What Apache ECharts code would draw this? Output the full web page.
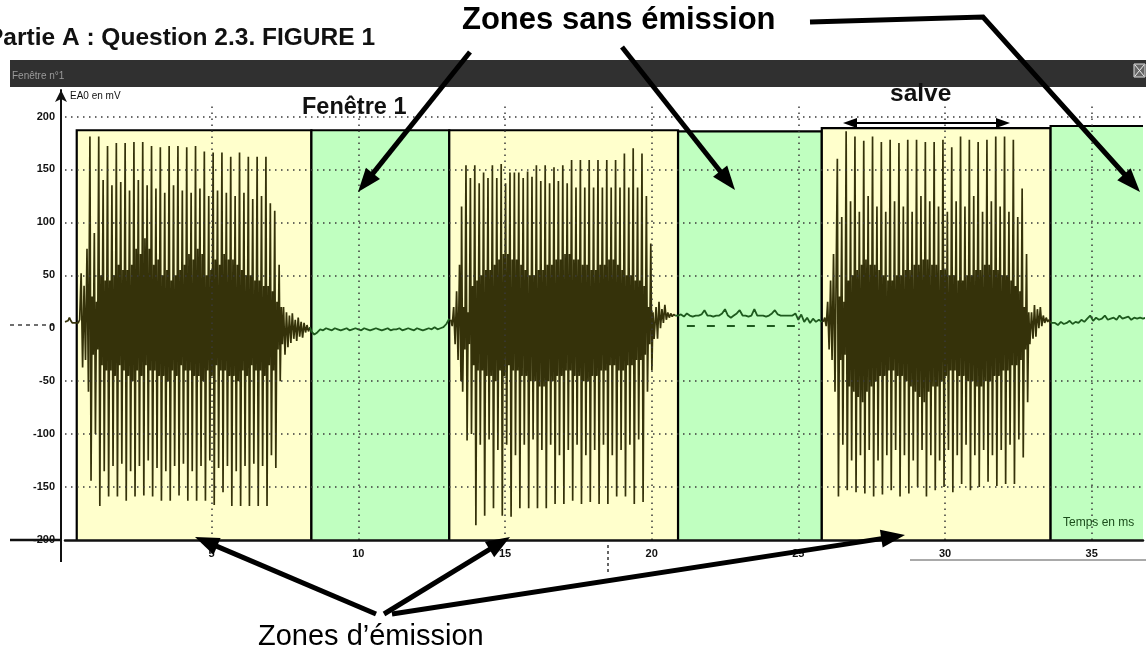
<!DOCTYPE html>
<html><head><meta charset="utf-8">
<script src="https://cdn.jsdelivr.net/npm/echarts/dist/echarts.min.js"></script>
<style>html,body{margin:0;padding:0;background:#fff;overflow:hidden}#c{width:1146px;height:666px}</style>
</head><body><div id="c"></div>
<script>
// ---- zones (ms) ----
const zoneStart = [0.4, 8.4, 13.1, 20.9, 25.8, 33.6];
const zoneEnd   = [8.4, 13.1, 20.9, 25.8, 33.6, 38.0];
const zoneTop   = [187, 187, 187, 186, 189, 191];
const zoneKind  = ['emission', 'sans', 'emission', 'sans', 'emission', 'sans'];

// ---- axis ticks ----
const xGridValues = [5, 10, 15, 20, 25, 30, 35];
const yGridValues = [-150, -100, -50, 50, 100, 150, 200];

// ---- signal: quiet segments (start ms, sample step ms, values mV) ----
const pre1Start = 0.0,   pre1Step = 0.05;
const pre1 = [6,6,7,10,7,5,6,5,6,5,8,52,-37,40,-30,75,-60];
const tail1Start = 7.45, tail1Step = 0.05;
const tail1 = [20,-25,15,-18,12,-14,14,-10,8,-12,10,-8,6,-9,5,-4,3,-3,1];
const base1Start = 8.4,  base1Step = 0.1;
const base1 = [-3,-6,-4,-1,-2,0,-1,-2,0,-1,-2,-1,0,-2,-1,0,-1,-2,0,-1,-2,-1,0,-1,-2,-1,0,-2,-1,-1,0,-2,-1,0,-1,-2,0,-1,-2,-1,0,-1,1,-1,0,1,4,9];
const pre2Start = 13.15, pre2Step = 0.05;
const pre2 = [8,2,20,-15,35,-30,60,-50];
const tail2Start = 20.15, tail2Step = 0.05;
const tail2 = [20,-10,25,0,18,5,22,8,15,10,14,11,13,12];
const base2Start = 20.9, base2Step = 0.1;
const base2 = [12,13,11,14,12,11,12,12,13,17,12,12,11,12,12,14,18,12,10,12,14,17,12,12,11,12,18,12,12,12,11,12,14,17,13,12,12,12,12,12,14,8,13,6,10,5,9,6,8,6];
const pre3Start = 25.85, pre3Step = 0.05;
const pre3 = [6,10,2,25,-20,45,-30,70,-60];
const tail3Start = 32.95, tail3Step = 0.05;
const tail3 = [15,-10,22,-8,18,0,20,2,12,5,10,6,8,5];
const base3Start = 33.65, base3Step = 0.1;
const base3 = [4,5,3,6,4,5,7,4,6,5,8,6,9,12,7,10,8,9,12,8,9,10,8,12,9,10,11,8,10,9,10,9,10];

// ---- signal: bursts, one period = 0.3 ms sampled every 0.0375 ms ----
const burstPeriod = 0.3, burstStep = 0.0375;
const b1Start = 0.85;
const b1TopA    = [181,181,172,175,175,176,176,172,171,172,172,171,172,167,166,166,162,166,162,162,162,111];
const b1BotA    = [-144,-168,-159,-159,-163,-159,-158,-159,-163,-163,-158,-163,-163,-163,-167,-155,-168,-168,-168,-168,-168,-132];
const b1CoreHi  = [30,50,45,60,55,75,85,60,50,45,55,70,75,50,65,70,65,55,50,45,40,25];
const b1CoreLo  = [-25,-35,-40,-35,-45,-40,-35,-40,-45,-40,-35,-40,-45,-40,-35,-40,-45,-40,-35,-40,-35,-20];
const b1TopB    = [90,140,135,138,130,140,135,132,128,135,130,128,132,125,130,128,125,128,122,125,118,60];
const b1BotB    = [-100,-135,-130,-128,-135,-130,-125,-132,-135,-130,-128,-135,-130,-125,-132,-130,-135,-130,-128,-130,-120,-50];
const b1Core2Hi = [25,45,50,55,60,70,75,65,55,50,60,65,70,55,60,65,60,50,45,40,35,20];
const b1Core2Lo = [-20,-40,-45,-40,-50,-45,-40,-45,-50,-45,-40,-45,-50,-45,-40,-45,-50,-45,-40,-45,-40,-15];

const b2Start = 13.52;
const b2TopA    = [115,142,137,142,142,137,147,142,143,139,137,139,137,133,133,133,133,133,133,133,133,125];
const b2BotA    = [-60,-100,-110,-105,-115,-110,-120,-110,-105,-115,-110,-120,-115,-110,-120,-115,-110,-120,-115,-110,-105,-60];
const b2CoreHi  = [20,40,50,55,65,70,65,55,50,55,60,65,70,65,60,55,60,65,55,50,45,20];
const b2CoreLo  = [-20,-35,-40,-45,-40,-35,-40,-45,-50,-55,-50,-45,-40,-45,-50,-45,-40,-35,-40,-35,-30,-15];
const b2TopB    = [154,154,147,154,155,147,147,148,154,154,152,154,159,159,159,159,159,159,165,170,165,80];
const b2BotB    = [-106,-186,-177,-170,-177,-178,-170,-170,-170,-170,-166,-166,-163,-166,-164,-166,-166,-159,-159,-166,-164,-40];
const b2Core2Hi = [15,45,55,60,70,65,60,50,55,60,65,70,65,60,55,60,65,60,50,45,40,15];
const b2Core2Lo = [-15,-40,-45,-50,-45,-40,-45,-50,-55,-50,-45,-40,-45,-50,-45,-40,-35,-40,-35,-30,-25,-10];

const b3Start = 26.33;
const b3TopA    = [160,186,181,177,181,176,178,175,178,178,176,176,178,171,181,178,176,178,181,181,178,132];
const b3BotA    = [-159,-153,-155,-156,-159,-157,-153,-159,-156,-150,-159,-153,-150,-155,-147,-153,-150,-145,-149,-147,-147,-122];
const b3CoreHi  = [30,45,55,65,60,50,45,50,55,60,65,60,55,50,45,50,55,60,55,50,40,20];
const b3CoreLo  = [-30,-55,-65,-60,-50,-45,-40,-45,-55,-65,-60,-55,-45,-40,-45,-50,-55,-50,-45,-40,-35,-20];
const b3TopB    = [105,120,110,125,115,110,120,115,110,125,120,115,110,120,115,125,110,120,115,110,105,70];
const b3BotB    = [-110,-125,-120,-115,-125,-120,-115,-120,-125,-115,-120,-125,-115,-120,-110,-120,-115,-120,-115,-110,-105,-70];
const b3Core2Hi = [25,50,60,60,55,45,50,55,60,65,60,55,50,45,50,55,60,55,50,45,35,15];
const b3Core2Lo = [-25,-60,-70,-55,-45,-40,-45,-50,-60,-70,-55,-50,-40,-45,-50,-55,-50,-45,-40,-35,-30,-15];

// ---- build series data ----
function seg(t0, dt, vals) { return vals.map((v, i) => [+(t0 + i * dt).toFixed(4), v]); }
function burst(t0, cols) {
  const out = [];
  for (let k = 0; k < cols[0].length; k++) {
    cols.forEach((c, j) => out.push([+(t0 + k * burstPeriod + j * burstStep).toFixed(4), c[k]]));
  }
  return out;
}
const oliveData = [].concat(
  seg(pre1Start, pre1Step, pre1),
  burst(b1Start, [b1TopA, b1BotA, b1CoreHi, b1CoreLo, b1TopB, b1BotB, b1Core2Hi, b1Core2Lo]),
  seg(tail1Start, tail1Step, tail1), [[8.37, null]],
  seg(pre2Start, pre2Step, pre2),
  burst(b2Start, [b2TopA, b2BotA, b2CoreHi, b2CoreLo, b2TopB, b2BotB, b2Core2Hi, b2Core2Lo]),
  seg(tail2Start, tail2Step, tail2), [[20.85, null]],
  seg(pre3Start, pre3Step, pre3),
  burst(b3Start, [b3TopA, b3BotA, b3CoreHi, b3CoreLo, b3TopB, b3BotB, b3Core2Hi, b3Core2Lo]),
  seg(tail3Start, tail3Step, tail3)
);
const greenData = [].concat(
  [[tail1Start + (tail1.length - 1) * tail1Step, tail1[tail1.length - 1]]],
  seg(base1Start, base1Step, base1), [[13.12, null]],
  [[tail2Start + (tail2.length - 1) * tail2Step, tail2[tail2.length - 1]]],
  seg(base2Start, base2Step, base2), [[25.83, null]],
  [[tail3Start + (tail3.length - 1) * tail3Step, tail3[tail3.length - 1]]],
  seg(base3Start, base3Step, base3)
);

const X_MIN = 0, X_MAX = 36.75, Y_MIN = -200, Y_MAX = 225;
const gridDot = { color: '#3a3a3a', width: 1.5, type: [1.5, 4.5] };
const markLines = [];
xGridValues.forEach(x => markLines.push([{ coord: [x, Y_MIN] }, { coord: [x, 210] }]));
yGridValues.forEach(y => markLines.push([{ coord: [X_MIN, y] }, { coord: [X_MAX, y] }]));
markLines.push([{ coord: [21.2, 2], lineStyle: { color: '#1e5a1e', width: 2, type: [8, 12] } }, { coord: [24.95, 2] }]);

const FONT = "'Liberation Sans', Arial, sans-serif";
function arrow(x1, y1, x2, y2, w, hl, hw) {
  const dx = x2 - x1, dy = y2 - y1, L = Math.hypot(dx, dy), ux = dx / L, uy = dy / L;
  const bx = x2 - ux * hl, by = y2 - uy * hl, px = -uy, py = ux;
  return [
    { type: 'line', z: 100, shape: { x1: x1, y1: y1, x2: bx + ux * 2, y2: by + uy * 2 }, style: { stroke: '#000', lineWidth: w } },
    { type: 'polygon', z: 100, shape: { points: [[x2, y2], [bx + px * hw / 2, by + py * hw / 2], [bx - px * hw / 2, by - py * hw / 2]] }, style: { fill: '#000' } }
  ];
}

const graphics = [].concat(
  [
    { type: 'text', z: 100, style: { x: -13, y: 51, text: 'Partie A : Question 2.3. FIGURE 1', font: 'bold 24.5px ' + FONT, fill: '#111', textVerticalAlign: 'bottom' } },
    { type: 'rect', z: 90, shape: { x: 10, y: 60, width: 1136, height: 27 }, style: { fill: '#303030' } },
    { type: 'text', z: 91, style: { x: 12, y: 71, text: 'Fenêtre n°1', font: '10px ' + FONT, fill: '#9a9a9a' } },
    { type: 'rect', z: 91, shape: { x: 1134, y: 64, width: 11, height: 13 }, style: { fill: '#666', stroke: '#ddd', lineWidth: 1 } },
    { type: 'line', z: 92, shape: { x1: 1135, y1: 65, x2: 1144, y2: 76 }, style: { stroke: '#eee', lineWidth: 1 } },
    { type: 'line', z: 92, shape: { x1: 1144, y1: 65, x2: 1135, y2: 76 }, style: { stroke: '#eee', lineWidth: 1 } },
    { type: 'text', z: 100, style: { x: 462, y: 36, text: 'Zones sans émission', font: 'bold 31px ' + FONT, fill: '#000', textVerticalAlign: 'bottom' } },
    { type: 'text', z: 100, style: { x: 302, y: 120, text: 'Fenêtre 1', font: 'bold 23.5px ' + FONT, fill: '#111', textVerticalAlign: 'bottom' } },
    { type: 'text', z: 100, style: { x: 890, y: 107, text: 'salve', font: 'bold 24.5px ' + FONT, fill: '#111', textVerticalAlign: 'bottom' } },
    { type: 'text', z: 100, style: { x: 70, y: 91, text: 'EA0 en mV', font: '10px ' + FONT, fill: '#111' } },
    { type: 'text', z: 100, style: { x: 1063, y: 529, text: 'Temps en ms', font: '12px ' + FONT, fill: '#1b4d1b', textVerticalAlign: 'bottom' } },
    { type: 'text', z: 100, style: { x: 258, y: 651, text: 'Zones d’émission', font: '29px ' + FONT, fill: '#000', textVerticalAlign: 'bottom' } },
    // axis extensions from the scan
    { type: 'line', z: 20, shape: { x1: 10, y1: 540, x2: 62, y2: 540 }, style: { stroke: '#111', lineWidth: 2.5 } },
    { type: 'line', z: 20, shape: { x1: 61, y1: 540, x2: 61, y2: 562 }, style: { stroke: '#111', lineWidth: 2 } },
    { type: 'line', z: 20, shape: { x1: 10, y1: 325, x2: 58, y2: 325 }, style: { stroke: '#111', lineWidth: 1.2, lineDash: [4, 4] } },
    { type: 'line', z: 20, shape: { x1: 910, y1: 560, x2: 1146, y2: 560 }, style: { stroke: '#555', lineWidth: 1 } },
    { type: 'line', z: 20, shape: { x1: 608, y1: 545, x2: 608, y2: 575 }, style: { stroke: '#333', lineWidth: 1.5, lineDash: [3, 3] } },
    // top annotations
    { type: 'polyline', z: 100, shape: { points: [[810, 22], [983, 17], [1126, 176]] }, style: { stroke: '#000', lineWidth: 5, fill: null } }
  ],
  arrow(983, 17, 1140, 192, 5, 24, 18).slice(1),
  arrow(470, 52, 358, 192, 5, 24, 18),
  arrow(622, 47, 735, 190, 5, 24, 18),
  // salve double arrow
  arrow(926, 123, 843, 123, 2, 14, 10),
  arrow(926, 123, 1010, 123, 2, 14, 10),
  // bottom annotations
  arrow(376, 614, 195, 537, 5, 24, 18),
  arrow(384, 614, 510, 537, 5, 24, 18),
  arrow(392, 614, 905, 535, 5, 24, 18)
);

const chart = echarts.init(document.getElementById('c'));
chart.setOption({
  animation: false,
  backgroundColor: '#fff',
  grid: { left: 65, right: 0, top: 90, bottom: 126 },
  xAxis: {
    type: 'value', min: X_MIN, max: X_MAX, interval: 5, z: 10,
    axisLine: { show: true, onZero: false, lineStyle: { color: '#111', width: 2.5 } },
    axisTick: { show: false }, splitLine: { show: false },
    axisLabel: { margin: 8, fontFamily: FONT, fontWeight: 'bold', fontSize: 11, color: '#111',
      formatter: v => (v > 0 && Math.abs(v % 5) < 1e-6) ? String(v) : '' }
  },
  yAxis: {
    type: 'value', min: Y_MIN, max: Y_MAX, interval: 50, offset: 4, z: 10,
    axisLine: { show: true, onZero: false, symbol: ['none', 'arrow'], symbolSize: [9, 12], lineStyle: { color: '#111', width: 2 } },
    axisTick: { show: false }, splitLine: { show: false },
    axisLabel: { margin: 6, fontFamily: FONT, fontWeight: 'bold', fontSize: 11, color: '#111',
      formatter: v => (Math.abs(v % 50) < 1e-6) ? String(v) : '' }
  },
  graphic: graphics,
  series: [
    {
      type: 'custom', z: 1, clip: true,
      data: zoneStart.map((s, i) => [s, zoneEnd[i], zoneTop[i], zoneKind[i] === 'emission' ? 0 : 1]),
      encode: { x: [0, 1], y: 2 },
      renderItem: function (params, api) {
        const a = api.coord([api.value(0), api.value(2)]);
        const b = api.coord([api.value(1), Y_MIN]);
        const open = api.value(1) > X_MAX;
        const edge = open ? [[a[0], b[1]], [a[0], a[1]], [b[0], a[1]]]
                          : [[a[0], b[1]], [a[0], a[1]], [b[0], a[1]], [b[0], b[1]]];
        return { type: 'group', children: [
          { type: 'rect', shape: { x: a[0], y: a[1], width: b[0] - a[0], height: b[1] - a[1] },
            style: { fill: api.value(3) === 0 ? '#ffffcc' : '#c0ffc0' } },
          { type: 'polyline', shape: { points: edge }, style: { fill: null, stroke: '#000', lineWidth: 2.2 } }
        ] };
      }
    },
    {
      type: 'line', z: 2, data: oliveData, showSymbol: false, connectNulls: false,
      lineStyle: { color: '#35320a', width: 1.7 }
    },
    {
      type: 'line', z: 3, data: greenData, showSymbol: false, connectNulls: false,
      lineStyle: { color: '#1e5a1e', width: 1.8 },
      markLine: { silent: true, symbol: ['none', 'none'], label: { show: false }, lineStyle: gridDot, data: markLines }
    }
  ]
});
</script></body></html>
